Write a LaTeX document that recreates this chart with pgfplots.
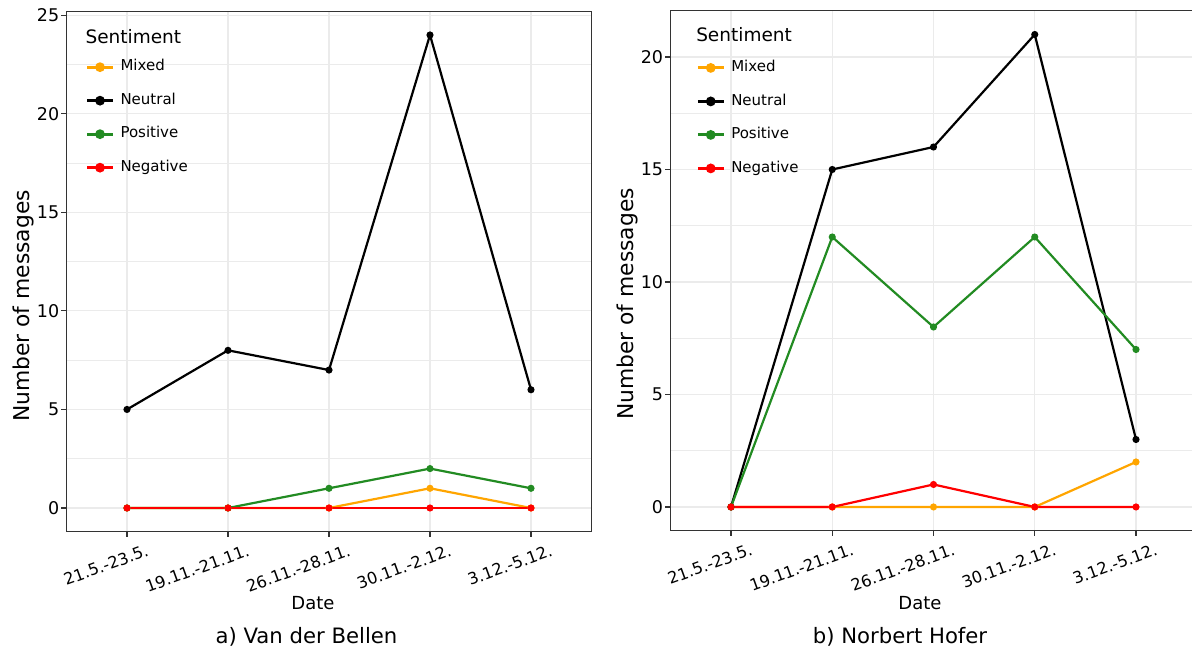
\documentclass[border=0pt]{standalone}
\usepackage{fontspec}
\setmainfont{DejaVu Sans}
\usepackage{pgfplots}
\pgfplotsset{compat=1.18}
\definecolor{cMixed}{HTML}{FFA500}
\definecolor{cPos}{HTML}{228B22}
\definecolor{cNeg}{HTML}{FF0000}
\definecolor{gridc}{HTML}{EBEBEB}
\definecolor{framec}{HTML}{333333}
\pgfplotsset{
 mystyle/.style={
  scale only axis,
  xmin=-0.6, xmax=4.6,
  xtick={0,1,2,3,4},
  xticklabels={21.5.-23.5.,19.11.-21.11.,26.11.-28.11.,30.11.-2.12.,3.12.-5.12.},
  grid=both,
  major grid style={gridc, line width=1.1pt},
  minor grid style={gridc, line width=0.6pt},
  axis line style={framec, line width=1.1pt},
  tick style={framec, line width=1.1pt},
  tick align=outside,
  major tick length=5pt,
  minor tick length=0pt,
  xtick pos=lower, ytick pos=left,
  /pgf/number format/assume math mode=true,
  yticklabel style={font=\fontsize{17.5}{20}\selectfont, text=black, inner sep=2pt},
  xticklabel style={font=\fontsize{16.2}{18}\selectfont, text=black, xshift=19pt, yshift=-6pt, rotate=20, anchor=north east, inner sep=1pt},
  every axis plot/.append style={line width=2.2pt, mark=*, mark size=2.4pt},
  every mark/.append style={line width=0.5pt},
  legend style={draw=none, fill=none, font=\fontsize{15}{18}\selectfont, inner sep=0pt,
    anchor=north west, row sep=19pt,
    nodes={inner sep=0pt, text height=11pt, text depth=3.5pt},
    /tikz/every odd column/.append style={column sep=6pt}},
  legend cell align=left,
  legend image code/.code={\draw[line width=3pt, mark size=3.3pt, mark repeat=2,mark phase=2] plot coordinates {(0pt,0pt) (13pt,0pt) (26pt,0pt)};},
 }
}
\begin{document}
\begin{tikzpicture}
\clip (0pt,0pt) rectangle (1192pt,652pt);
% Left panel
\begin{axis}[mystyle, at={(66.4pt,120.35pt)}, anchor=south west,
  width=525.2pt, height=520.3pt,
  ymin=-1.2, ymax=25.2,
  ytick={0,5,10,15,20,25}, minor ytick={2.5,7.5,12.5,17.5,22.5},
  legend style={at={(0.036,0.907)}}]
\addplot[cMixed] coordinates {(0,0) (1,0) (2,0) (3,1) (4,0)};
\addlegendentry{Mixed}
\addplot[black] coordinates {(0,5) (1,8) (2,7) (3,24) (4,6)};
\addlegendentry{Neutral}
\addplot[cPos] coordinates {(0,0) (1,0) (2,1) (3,2) (4,1)};
\addlegendentry{Positive}
\addplot[cNeg] coordinates {(0,0) (1,0) (2,0) (3,0) (4,0)};
\addlegendentry{Negative}
\node[anchor=west, inner sep=0pt, font=\fontsize{18.5}{20}\selectfont] at (rel axis cs:0.036,0.9506) {Sentiment};
\end{axis}
% Right panel
\begin{axis}[mystyle, at={(670.25pt,121.4pt)}, anchor=south west,
  width=526.5pt, height=519.7pt,
  ymin=-1.05, ymax=22.05,
  ytick={0,5,10,15,20}, minor ytick={2.5,7.5,12.5,17.5},
  legend style={at={(0.049,0.9046)}}]
\addplot[cMixed] coordinates {(0,0) (1,0) (2,0) (3,0) (4,2)};
\addlegendentry{Mixed}
\addplot[black] coordinates {(0,0) (1,15) (2,16) (3,21) (4,3)};
\addlegendentry{Neutral}
\addplot[cPos] coordinates {(0,0) (1,12) (2,8) (3,12) (4,7)};
\addlegendentry{Positive}
\addplot[cNeg] coordinates {(0,0) (1,0) (2,1) (3,0) (4,0)};
\addlegendentry{Negative}
\node[anchor=west, inner sep=0pt, font=\fontsize{18.5}{20}\selectfont] at (rel axis cs:0.049,0.954) {Sentiment};
\end{axis}
% axis titles and captions
\node[rotate=90, anchor=base, font=\fontsize{21.8}{24}\selectfont] at (29.3pt,346pt) {Number of messages};
\node[rotate=90, anchor=base, font=\fontsize{21.8}{24}\selectfont] at (633pt,348pt) {Number of messages};
\node[font=\fontsize{18}{20}\selectfont] at (313pt,48.5pt) {Date};
\node[font=\fontsize{18}{20}\selectfont] at (920pt,48.5pt) {Date};
\node[font=\fontsize{21.2}{24}\selectfont] at (306.5pt,15pt) {a) Van der Bellen};
\node[font=\fontsize{21.2}{24}\selectfont] at (900pt,15pt) {b) Norbert Hofer};
\end{tikzpicture}
\end{document}
